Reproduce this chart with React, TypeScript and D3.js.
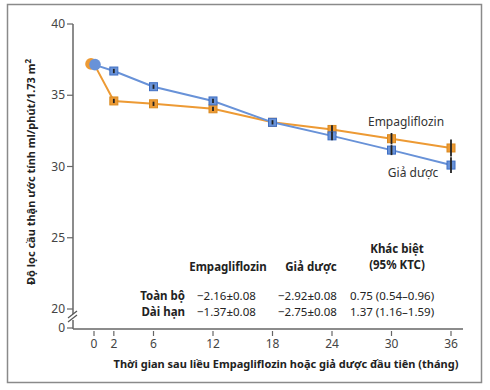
import * as d3 from "d3";

const months = [0, 2, 6, 12, 18, 24, 30, 36];
const empaValues = [37.2, 34.6, 34.4, 34.05, 33.1, 32.6, 31.95, 31.3];
const empaErr = [0, 0.15, 0.15, 0.15, 0.15, 0.3, 0.4, 0.6];
const placeboValues = [37.15, 36.7, 35.6, 34.6, 33.1, 32.15, 31.15, 30.1];
const placeboErr = [0, 0.15, 0.15, 0.15, 0.15, 0.3, 0.35, 0.55];
const yTicks = [20, 25, 30, 35, 40];
const xTicks = [0, 2, 6, 12, 18, 24, 30, 36];

const tableRows = ["Toàn bộ", "Dài hạn"];
const tableEmpa = ["−2.16±0.08", "−1.37±0.08"];
const tablePlacebo = ["−2.92±0.08", "−2.75±0.08"];
const tableDiff = ["0.75 (0.54–0.96)", "1.37 (1.16–1.59)"];

const ORANGE = "#ED9A34";
const ORANGE_DARK = "#D98A20";
const BLUE = "#6892D8";
const BLUE_DARK = "#3F6FC4";
const FONT = "'Noto Sans', 'DejaVu Sans', sans-serif";

export default function App() {
  const W = 490, H = 390;
  const x = d3.scaleLinear().domain([0, 36]).range([94, 451]);
  const y = d3.scaleLinear().domain([20, 40]).range([309, 24]);
  const axisY = 329;
  const axisX = 73;

  const line = d3.line<[number, number]>().x((d) => x(d[0])).y((d) => y(d[1]));
  const empaPts = months.map((m, i) => [m, empaValues[i]] as [number, number]);
  const placeboPts = months.map((m, i) => [m, placeboValues[i]] as [number, number]);

  const series = [
    { pts: empaPts, err: empaErr, color: ORANGE, dark: ORANGE_DARK, dx: -3 },
    { pts: placeboPts, err: placeboErr, color: BLUE, dark: BLUE_DARK, dx: 1 },
  ];

  return (
    <svg width={W} height={H} style={{ position: "absolute", left: 0, top: 0, background: "#fff" }} fontFamily={FONT}>
      <rect x={7.5} y={4.5} width={474} height={378} fill="#fff" stroke="#8a8a8a" strokeWidth={1.5} />

      {/* y axis */}
      <line x1={axisX} x2={axisX} y1={y(40)} y2={axisY} stroke="#666" strokeWidth={1.5} />
      {yTicks.map((t) => (
        <g key={t}>
          <line x1={axisX - 6} x2={axisX} y1={y(t)} y2={y(t)} stroke="#666" strokeWidth={1.2} />
          <text x={axisX - 8} y={y(t)} dy="0.35em" textAnchor="end" fontSize={12} fill="#444">{t}</text>
        </g>
      ))}
      <line x1={axisX - 6} x2={axisX} y1={axisY - 1} y2={axisY - 1} stroke="#666" strokeWidth={1.2} />
      <text x={axisX - 8} y={axisY - 1} dy="0.35em" textAnchor="end" fontSize={12} fill="#444">0</text>
      {/* axis break */}
      <rect x={axisX - 5} y={314} width={10} height={6} fill="#fff" />
      <line x1={axisX - 5} x2={axisX + 4} y1={318} y2={311} stroke="#555" strokeWidth={1.2} />
      <line x1={axisX - 5} x2={axisX + 4} y1={322} y2={315} stroke="#555" strokeWidth={1.2} />

      {/* x axis */}
      <line x1={axisX} x2={463} y1={axisY} y2={axisY} stroke="#666" strokeWidth={1.5} />
      {xTicks.map((t) => (
        <g key={t}>
          <line x1={x(t)} x2={x(t)} y1={axisY + 2} y2={axisY + 7} stroke="#666" strokeWidth={1.2} />
          <text x={x(t)} y={344} dy="0.35em" textAnchor="middle" fontSize={12} fill="#444">{t}</text>
        </g>
      ))}

      <text x={286} y={368} textAnchor="middle" fontSize={11} fontWeight="bold" fill="#222">
        Thời gian sau liều Empagliflozin hoặc giả dược đầu tiên (tháng)
      </text>
      <text transform={`translate(35,172) rotate(-90)`} textAnchor="middle" fontSize={11} fontWeight="bold" fill="#222">
        Độ lọc cầu thận ước tính ml/phút/1.73 m<tspan dy={-4} fontSize={8}>2</tspan>
      </text>

      {/* lines */}
      {series.map((s, k) => (
        <path key={k} d={line(s.pts) ?? ""} fill="none" stroke={s.color} strokeWidth={2} />
      ))}
      {/* markers */}
      {series.map((s, k) => (
        <g key={k}>
          {s.pts.map((p, i) =>
            i === 0 ? (
              <circle key={i} cx={x(p[0]) + s.dx} cy={y(p[1])} r={5.8} fill={s.color} />
            ) : (
              <g key={i}>
                <rect x={x(p[0]) - 4} y={y(p[1]) - 4} width={8} height={8} fill={s.color} stroke={s.dark} strokeWidth={1} />
                <line x1={x(p[0])} x2={x(p[0])} y1={y(p[1] + s.err[i])} y2={y(p[1] - s.err[i])} stroke="#222" strokeWidth={1.8} />
              </g>
            )
          )}
        </g>
      ))}

      <text x={406} y={126} textAnchor="middle" fontSize={12} fill="#333">Empagliflozin</text>
      <text x={413} y={177} textAnchor="middle" fontSize={12} fill="#333">Giả dược</text>

      {/* table */}
      <text x={228} y={271} textAnchor="middle" fontSize={11.5} fontWeight="bold" fill="#222">Empagliflozin</text>
      <text x={311} y={271} textAnchor="middle" fontSize={11.5} fontWeight="bold" fill="#222">Giả dược</text>
      <text x={397} y={253} textAnchor="middle" fontSize={11.5} fontWeight="bold" fill="#222">Khác biệt</text>
      <text x={397} y={269} textAnchor="middle" fontSize={11.5} fontWeight="bold" fill="#222">(95% KTC)</text>
      {tableRows.map((r, i) => (
        <g key={r} fontSize={11.5} fill="#222">
          <text x={185} y={300 + i * 16} textAnchor="end" fontWeight="bold">{r}</text>
          <text x={197} y={300 + i * 16}>{tableEmpa[i]}</text>
          <text x={278} y={300 + i * 16}>{tablePlacebo[i]}</text>
          <text x={350} y={300 + i * 16}>{tableDiff[i]}</text>
        </g>
      ))}
    </svg>
  );
}
